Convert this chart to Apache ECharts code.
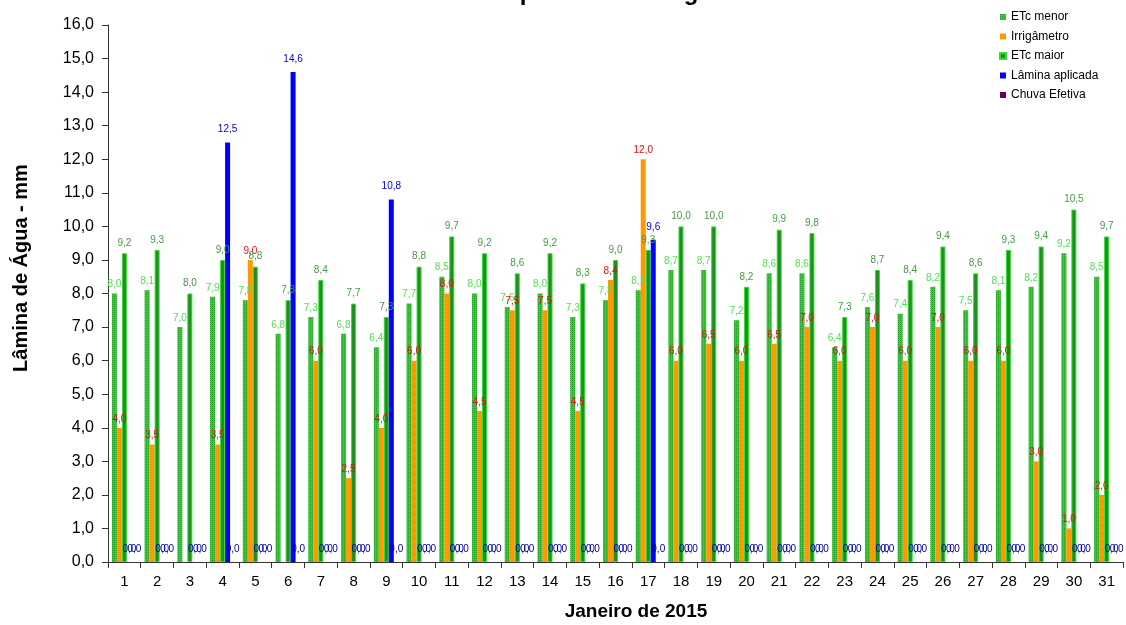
<!DOCTYPE html>
<html>
<head>
<meta charset="utf-8">
<script src="https://cdn.jsdelivr.net/npm/echarts@6/dist/echarts.min.js"></script>
<style>html,body{margin:0;padding:0;background:#fff}#c{width:1126px;height:625px}</style>
</head>
<body>
<div id="c"></div>
<script>
const days = ['1','2','3','4','5','6','7','8','9','10','11','12','13','14','15','16','17','18','19','20','21','22','23','24','25','26','27','28','29','30','31'];
const etcMenor = [8.0,8.1,7.0,7.9,7.8,6.8,7.3,6.8,6.4,7.7,8.5,8.0,7.6,8.0,7.3,7.8,8.1,8.7,8.7,7.2,8.6,8.6,6.4,7.6,7.4,8.2,7.5,8.1,8.2,9.2,8.5];
const irrigametro = [4.0,3.5,null,3.5,9.0,null,6.0,2.5,4.0,6.0,8.0,4.5,7.5,7.5,4.5,8.4,12.0,6.0,6.5,6.0,6.5,7.0,6.0,7.0,6.0,7.0,6.0,6.0,3.0,1.0,2.0];
const etcMaior = [9.2,9.3,8.0,9.0,8.8,7.8,8.4,7.7,7.3,8.8,9.7,9.2,8.6,9.2,8.3,9.0,9.3,10.0,10.0,8.2,9.9,9.8,7.3,8.7,8.4,9.4,8.6,9.3,9.4,10.5,9.7];
const laminaAplicada = [0,0,0,12.5,0,14.6,0,0,10.8,0,0,0,0,0,0,0,9.6,0,0,0,0,0,0,0,0,0,0,0,0,0,0];
const chuvaEfetiva = [0,0,0,0,0,0,0,0,0,0,0,0,0,0,0,0,0,0,0,0,0,0,0,0,0,0,0,0,0,0,0];
const yTicks = [0,1,2,3,4,5,6,7,8,9,10,11,12,13,14,15,16];
const titleText = 'Aspersão - Pastagem';
const xName = 'Janeiro de 2015';
const yName = 'Lâmina de Água - mm';

const FF = 'Liberation Sans, Arial, sans-serif';
const fmt = p => (p.value == null ? '' : Number(p.value).toFixed(1).replace('.', ','));
const lbl = (color, dist) => ({show:true, position:'top', distance:dist, formatter:fmt, color:color, fontSize:10, fontFamily:FF});

const chart = echarts.init(document.getElementById('c'), null, {renderer:'canvas'});
chart.setOption({
  animation:false,
  backgroundColor:'#fff',
  graphic:[
    {type:'text', left:489, top:-19, style:{text:titleText, font:'bold 24px ' + FF, fill:'#000'}},
    {type:'text', x:636, y:612, style:{text:xName, font:'bold 19px ' + FF, fill:'#000', align:'center', verticalAlign:'middle'}},
    {type:'text', x:21, y:268, rotation:Math.PI/2, style:{text:yName, font:'bold 20px ' + FF, fill:'#000', align:'center', verticalAlign:'middle'}}
  ],
  legend:{orient:'vertical', left:994, top:6, itemWidth:6, itemHeight:6, itemGap:7.5, icon:'rect',
    textStyle:{fontSize:12, color:'#000', fontFamily:FF},
    data:['ETc menor','Irrigâmetro','ETc maior','Lâmina aplicada','Chuva Efetiva']},
  grid:{left:108, right:3, top:25, bottom:63, containLabel:false},
  xAxis:{type:'category', data:days,
    axisLine:{lineStyle:{color:'#333', width:1}}, axisTick:{show:true, length:6, lineStyle:{color:'#333'}},
    axisLabel:{fontSize:15, color:'#000', margin:12, fontFamily:FF}},
  yAxis:{type:'value', min:0, max:16, interval:1,
    axisLine:{show:true, lineStyle:{color:'#333'}}, axisTick:{show:true, length:6, lineStyle:{color:'#333'}},
    splitLine:{show:false},
    axisLabel:{fontSize:16, color:'#000', margin:14, fontFamily:FF,
      formatter:v => (yTicks.includes(v) ? v.toFixed(1).replace('.', ',') : '')}},
  series:[
    {name:'ETc menor', type:'bar', data:etcMenor, barWidth:5, barGap:'0%',
      itemStyle:{color:'#33cc33', decal:{symbol:'rect', symbolSize:1, dashArrayX:[1,1], dashArrayY:[1,1], color:'rgba(0,90,0,0.35)'}},
      label:lbl('#55dd55',4)},
    {name:'Irrigâmetro', type:'bar', data:irrigametro, barWidth:5, barGap:'0%',
      itemStyle:{color:'#ff9900'}, label:lbl('#dd1111',4)},
    {name:'ETc maior', type:'bar', data:etcMaior, barWidth:5, barGap:'0%',
      itemStyle:{color:'#1f8f1f', borderColor:'#33dd33', borderWidth:1}, label:lbl('#449944',5)},
    {name:'Lâmina aplicada', type:'bar', data:laminaAplicada, barWidth:5, barGap:'0%',
      itemStyle:{color:'#0000ff'}, label:lbl('#0000cc',8)},
    {name:'Chuva Efetiva', type:'bar', data:chuvaEfetiva, barWidth:5, barGap:'0%',
      itemStyle:{color:'#660066'}, label:lbl('#000088',8)}
  ]
});
</script>
</body>
</html>
